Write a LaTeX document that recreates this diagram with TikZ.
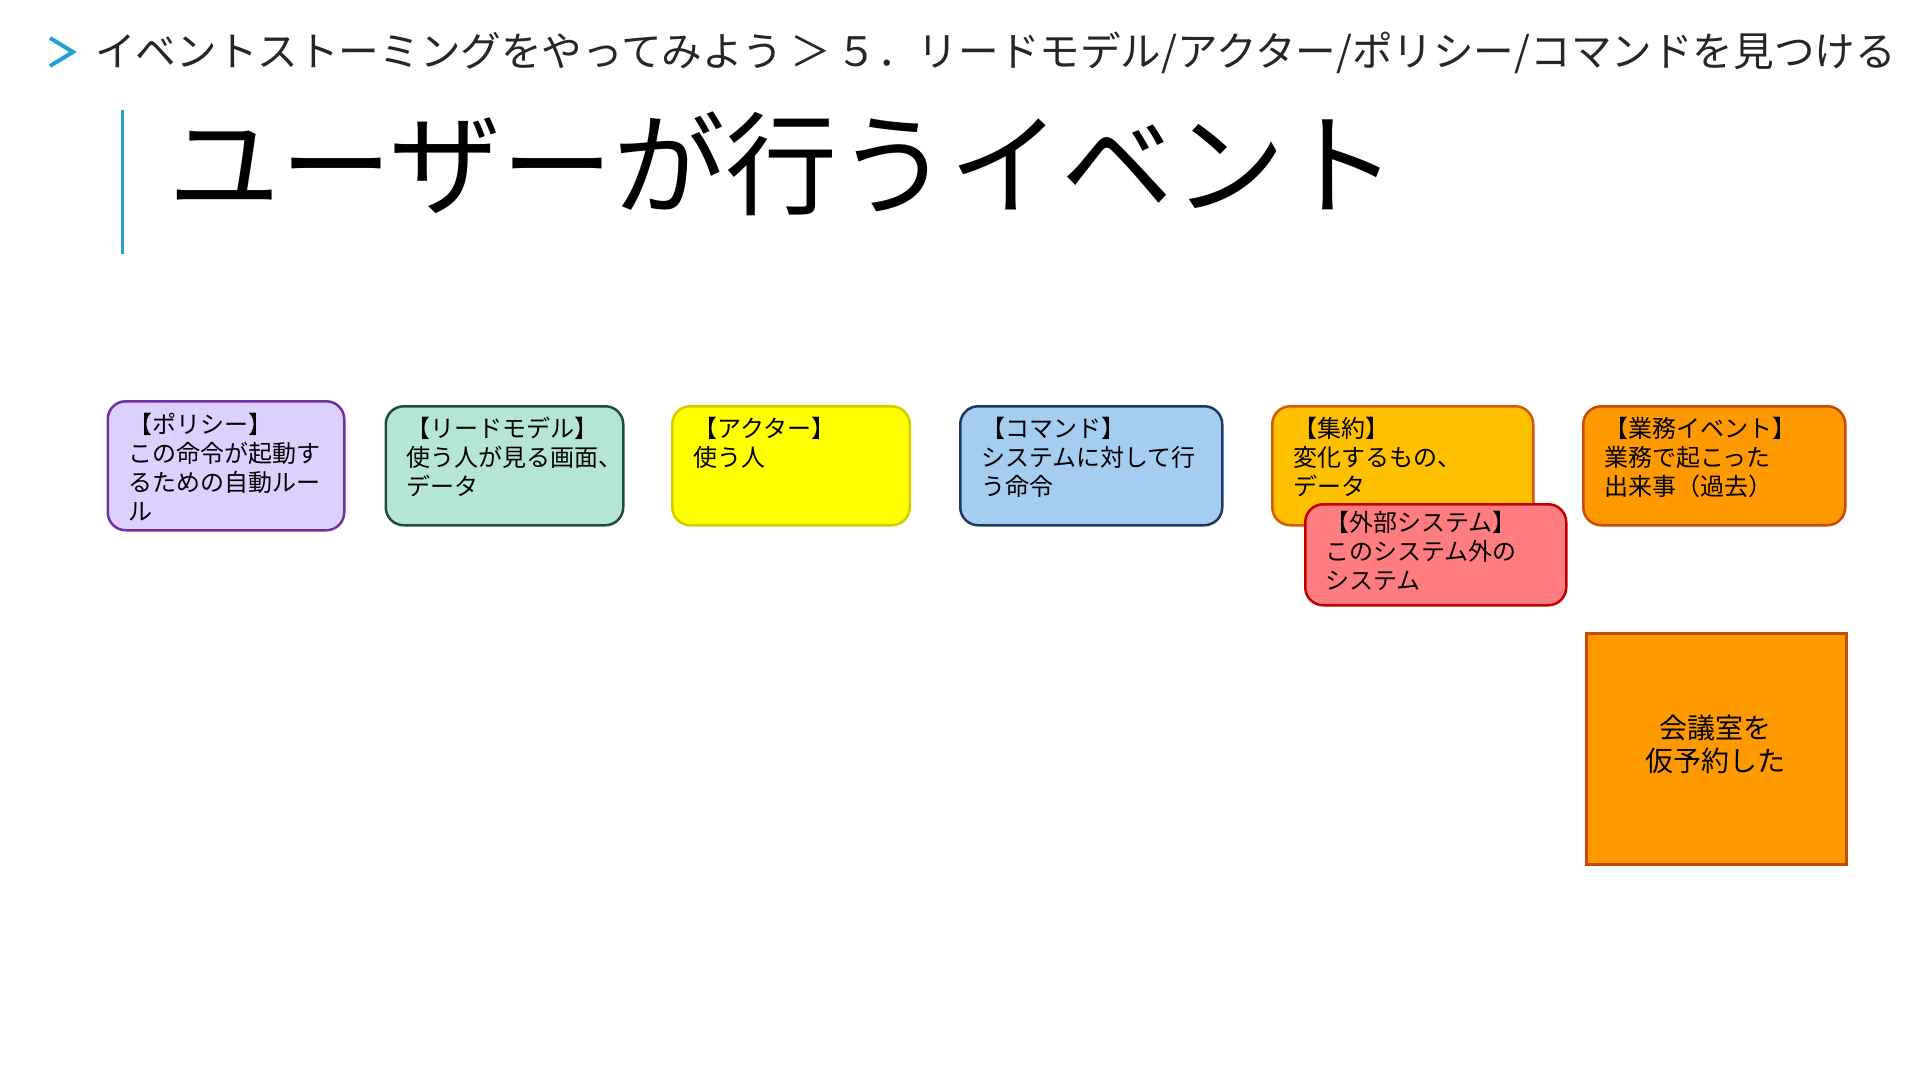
\documentclass[tikz,border=0pt]{standalone}
\usepackage{fontspec}
\setmainfont{Noto Sans CJK JP}
\definecolor{accent}{HTML}{1FA0D8}
\definecolor{crumb}{HTML}{262626}
\definecolor{polfill}{HTML}{DDD0FF}\definecolor{poldraw}{HTML}{7030A0}
\definecolor{rmfill}{HTML}{B4E5D6}\definecolor{rmdraw}{HTML}{1F4E3D}
\definecolor{actfill}{HTML}{FFFF00}\definecolor{actdraw}{HTML}{D6CB00}
\definecolor{cmdfill}{HTML}{A4CDEF}\definecolor{cmddraw}{HTML}{1F3864}
\definecolor{aggfill}{HTML}{FFC000}\definecolor{aggdraw}{HTML}{D45A0C}
\definecolor{extfill}{HTML}{FF7C80}\definecolor{extdraw}{HTML}{C00000}
\definecolor{evtfill}{HTML}{FF9900}\definecolor{evtdraw}{HTML}{C8490A}
\begin{document}
\begin{tikzpicture}[x=1pt,y=-1pt,
  card/.style={rectangle, rounded corners=18pt, line width=2.5pt, anchor=north west, inner sep=0pt},
  cardtext/.style={anchor=base west, inner sep=0pt, align=left, font=\fontsize{24}{29}\selectfont, text=black, xshift=22pt},
  sticky/.style={rectangle, line width=2.5pt, anchor=north west, inner sep=0pt}]
\useasboundingbox (0,0) rectangle (1920,1080);
% breadcrumb
\draw[accent, line width=4pt] (50,38) -- (73,52) -- (50,66);
\node[anchor=base west, inner sep=0pt, text=crumb, font=\fontsize{40.6}{48}\selectfont] (crumb) at (95,66.6)
  {イベントストーミングをやってみよう\,＞\kern6pt ５．リードモデル/アクター/ポリシー/コマンドを見つける};
% title
\draw[accent, line width=2.5pt] (122.5,110) -- (122.5,253.5);
\node[anchor=base west, inner sep=0pt, font=\fontsize{112}{120}\selectfont] (title) at (168,206) {ユーザーが行うイベント};
% cards (base anchor = last line baseline)
\node[card, fill=polfill, draw=poldraw, minimum width=236.5pt, minimum height=129pt] (pol) at (106.5,400) {};
\node[cardtext, yshift=-120pt] (poltx) at (pol.north west) {【ポリシー】\\この命令が起動す\\るための自動ルー\\ル};
\node[card, fill=rmfill, draw=rmdraw, minimum width=237.5pt, minimum height=119pt] (rm) at (384.5,405) {};
\node[cardtext, yshift=-90pt] (rmtx) at (rm.north west) {【リードモデル】\\使う人が見る画面、\\データ};
\node[card, fill=actfill, draw=actdraw, minimum width=237.5pt, minimum height=119pt] (act) at (671,405) {};
\node[cardtext, yshift=-61pt] (acttx) at (act.north west) {【アクター】\\使う人};
\node[card, fill=cmdfill, draw=cmddraw, minimum width=262pt, minimum height=119pt] (cmd) at (959,405) {};
\node[cardtext, yshift=-90pt] (cmdtx) at (cmd.north west) {【コマンド】\\システムに対して行\\う命令};
\node[card, fill=aggfill, draw=aggdraw, minimum width=261pt, minimum height=119pt] (agg) at (1271,405) {};
\node[cardtext, yshift=-90pt] (aggtx) at (agg.north west) {【集約】\\変化するもの、\\データ};
\node[card, fill=extfill, draw=extdraw, minimum width=261pt, minimum height=101pt] (ext) at (1304,503) {};
\node[cardtext, xshift=-1pt, yshift=-86pt] (exttx) at (ext.north west) {【外部システム】\\このシステム外の\\システム};
\node[card, fill=evtfill, draw=evtdraw, minimum width=262pt, minimum height=119pt] (evt) at (1582,405) {};
\node[cardtext, yshift=-90pt] (evttx) at (evt.north west) {【業務イベント】\\業務で起こった\\出来事（過去）};
% sticky
\node[sticky, fill=evtfill, draw=evtdraw, minimum width=260pt, minimum height=231pt] (stk) at (1585,632) {};
\node[inner sep=0pt, align=center, font=\fontsize{28}{33}\selectfont] (stktx) at (1715,744) {会議室を\\仮予約した};
\end{tikzpicture}
\end{document}
